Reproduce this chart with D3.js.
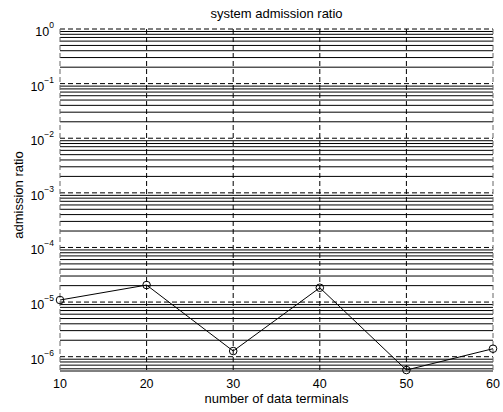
<!DOCTYPE html>
<html lang="en">
<head>
    <meta charset="UTF-8">
    <title>system admission ratio</title>
    <script src="https://d3js.org/d3.v7.min.js"></script>
    <style>
        body { margin: 0; background: #fff; }
        text { font-family: "Liberation Sans", Arial, sans-serif; fill: #000; }
    </style>
</head>
<body>
    <svg id="chart" width="503" height="412"></svg>
    <script>
        // data
        const terminals = [10, 20, 30, 40, 50, 60];
        const ratio = [1.09e-5, 2.05e-5, 1.27e-6, 1.83e-5, 5.7e-7, 1.40e-6];
        const xTicks = [10, 20, 30, 40, 50, 60];
        const yExponents = [0, -1, -2, -3, -4, -5, -6];

        const margin = { top: 29, right: 10, bottom: 41, left: 60 };
        const width = 503 - margin.left - margin.right;
        const height = 412 - margin.top - margin.bottom;

        const svg = d3.select("#chart");
        const g = svg.append("g")
            .attr("transform", `translate(${margin.left},${margin.top})`);

        const x = d3.scaleLinear().domain([10, 60]).range([0, width]);
        const y = d3.scaleLog().domain([5.47e-7, 1]).range([height, 0]);

        // minor grid (2..9 in every decade)
        const minor = [];
        for (let d = -7; d <= -1; d++) {
            for (let k = 2; k <= 9; k++) {
                const v = k * Math.pow(10, d);
                if (v >= y.domain()[0] && v <= 1) minor.push(v);
            }
        }
        g.selectAll(".minor")
            .data(minor)
            .join("line")
            .attr("x1", 0).attr("x2", width)
            .attr("y1", d => y(d)).attr("y2", d => y(d))
            .attr("stroke", "#000")
            .attr("stroke-width", 1);

        // major grid, dashed
        g.selectAll(".major")
            .data(yExponents)
            .join("line")
            .attr("x1", 0).attr("x2", width)
            .attr("y1", d => y(Math.pow(10, d))).attr("y2", d => y(Math.pow(10, d)))
            .attr("stroke", "#000")
            .attr("stroke-dasharray", "5,3");

        g.selectAll(".vgrid")
            .data(xTicks)
            .join("line")
            .attr("x1", d => x(d)).attr("x2", d => x(d))
            .attr("y1", 0).attr("y2", height)
            .attr("stroke", d => (d === 10 || d === 60) ? "#666" : "#000")
            .attr("stroke-dasharray", "5,3");

        // bottom edge
        g.append("line")
            .attr("x1", 0).attr("x2", width)
            .attr("y1", height).attr("y2", height)
            .attr("stroke", "#000");

        // x tick labels
        g.selectAll(".xlab")
            .data(xTicks)
            .join("text")
            .attr("x", d => x(d))
            .attr("y", height + 17)
            .attr("text-anchor", "middle")
            .style("font-size", "12.5px")
            .text(d => d);

        // y tick labels 10^n
        const ylab = g.selectAll(".ylab")
            .data(yExponents)
            .join("text")
            .attr("x", -6)
            .attr("y", d => y(Math.pow(10, d)) + 7)
            .attr("text-anchor", "end")
            .style("font-size", "12.5px");
        ylab.append("tspan").text("10");
        ylab.append("tspan")
            .attr("dy", -8)
            .style("font-size", "8.5px")
            .text(d => d === 0 ? "0" : "\u2212" + (-d));

        // series
        const line = d3.line()
            .x((d, i) => x(terminals[i]))
            .y(d => y(d));

        g.append("path")
            .datum(ratio)
            .attr("fill", "none")
            .attr("stroke", "#000")
            .attr("stroke-width", 1)
            .attr("d", line);

        g.selectAll(".pt")
            .data(ratio)
            .join("circle")
            .attr("cx", (d, i) => x(terminals[i]))
            .attr("cy", d => y(d))
            .attr("r", 3.8)
            .attr("fill", "none")
            .attr("stroke", "#000")
            .attr("stroke-width", 1);

        // title and axis labels
        svg.append("text")
            .attr("x", margin.left + width / 2)
            .attr("y", 18)
            .attr("text-anchor", "middle")
            .style("font-size", "13px")
            .text("system admission ratio");

        svg.append("text")
            .attr("x", margin.left + width / 2)
            .attr("y", 403)
            .attr("text-anchor", "middle")
            .style("font-size", "13px")
            .text("number of data terminals");

        svg.append("text")
            .attr("transform", "translate(23,195) rotate(-90)")
            .attr("text-anchor", "middle")
            .style("font-size", "13px")
            .text("admission ratio");
    </script>
</body>
</html>
